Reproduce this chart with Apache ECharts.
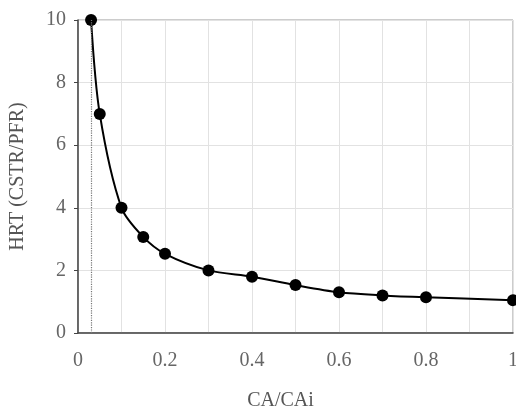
<!DOCTYPE html>
<html>
<head>
<meta charset="utf-8">
<script src="https://cdn.jsdelivr.net/npm/echarts@6/dist/echarts.min.js"></script>
<style>
  html, body { margin: 0; padding: 0; background: #fff; }
  #chart { width: 516px; height: 412px; }
</style>
</head>
<body>
<div id="chart"></div>
<script>
// CA/CAi ratio vs hydraulic retention time ratio
var caRatio = [0.03, 0.05, 0.1, 0.15, 0.2, 0.3, 0.4, 0.5, 0.6, 0.7, 0.8, 1.0];
var hrtRatio = [10, 7, 4, 3.07, 2.53, 2.0, 1.8, 1.53, 1.3, 1.2, 1.14, 1.05];
var limitX = [0.03]; // dotted vertical line
var xTicks = [0, 0.2, 0.4, 0.6, 0.8, 1];
var yTicks = [0, 2, 4, 6, 8, 10];

var chart = echarts.init(document.getElementById('chart'));
var fontFam = '"Liberation Serif", "DejaVu Serif", serif';

var points = caRatio.map(function (x, i) { return [x, hrtRatio[i]]; });

var option = {
    backgroundColor: '#fff',
    animation: false,
    grid: {
        left: 78,
        right: 3,
        top: 20,
        bottom: 79,
        containLabel: false,
        outerBoundsMode: 'none',
        show: true,
        borderColor: '#999',
        borderWidth: 1
    },
    xAxis: {
        type: 'value',
        min: xTicks[0],
        max: xTicks[xTicks.length - 1],
        interval: 0.2,
        name: 'CA/CAi',
        nameLocation: 'middle',
        nameGap: 58,
        nameTextStyle: { fontFamily: fontFam, fontSize: 20, color: '#555', padding: [0, 30, 0, 0] },
        axisLine: { lineStyle: { color: '#444', width: 1.5 } },
        axisTick: { show: false },
        axisLabel: {
            fontFamily: fontFam, fontSize: 20, color: '#666', margin: 18,
            formatter: function (v) { return String(Math.round(v * 10) / 10); }
        },
        splitLine: { show: true, lineStyle: { color: '#e2e2e2' } },
        minorTick: { show: false, splitNumber: 2 },
        minorSplitLine: { show: true, lineStyle: { color: '#e2e2e2' } }
    },
    yAxis: {
        type: 'value',
        min: yTicks[0],
        max: yTicks[yTicks.length - 1],
        interval: 2,
        name: 'HRT (CSTR/PFR)',
        nameLocation: 'middle',
        nameGap: 50,
        nameTextStyle: { fontFamily: fontFam, fontSize: 20, color: '#555' },
        axisLine: { show: true, lineStyle: { color: '#444', width: 1.5 } },
        axisTick: { show: true, length: 4, lineStyle: { color: '#444' } },
        axisLabel: { fontFamily: fontFam, fontSize: 20, color: '#666', margin: 12 },
        splitLine: { show: true, lineStyle: { color: '#e2e2e2' } },
        minorSplitLine: { show: false }
    },
    series: [
        {
            type: 'line',
            data: points,
            smooth: 0.3,
            symbol: 'circle',
            symbolSize: 12,
            clip: false,
            lineStyle: { color: '#000', width: 2 },
            itemStyle: { color: '#000' },
            markLine: {
                silent: true,
                symbol: 'none',
                label: { show: false },
                lineStyle: { color: '#777', type: 'dotted', width: 1.2 },
                data: limitX.map(function (x) { return { xAxis: x }; })
            }
        }
    ]
};

chart.setOption(option);
</script>
</body>
</html>
